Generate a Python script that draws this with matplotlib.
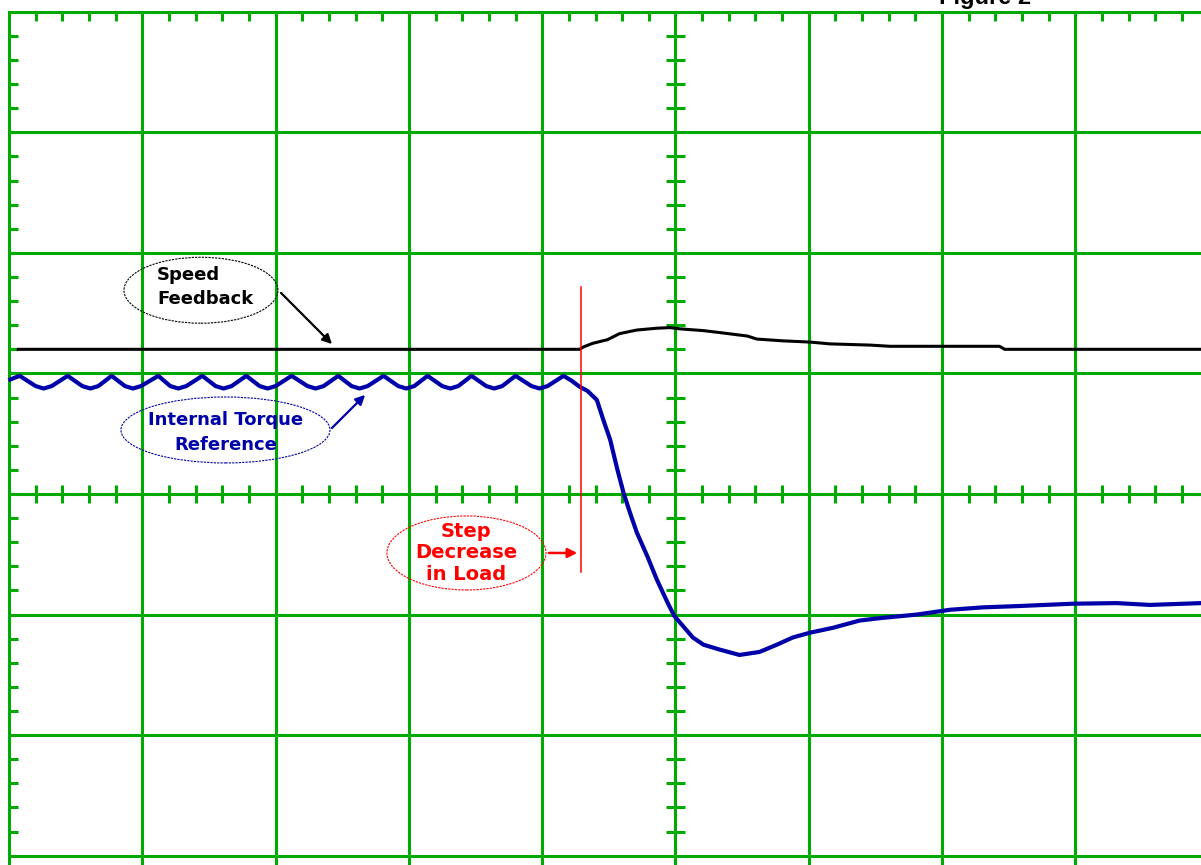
import numpy as np
import matplotlib
matplotlib.use('Agg')
import matplotlib.pyplot as plt
from matplotlib.patches import Ellipse
from matplotlib.collections import LineCollection

### trace data, in scope divisions (x: time div, y: div from centre line)
speed_t = [0.07, 4.28, 4.31, 4.38, 4.49, 4.58, 4.71, 4.86, 4.96, 5.03, 5.21, 5.36,
           5.54, 5.61, 5.81, 6.01, 6.16, 6.46, 6.61, 7.43, 7.47, 8.94]
speed_v = [1.20, 1.20, 1.22, 1.25, 1.28, 1.33, 1.36, 1.375, 1.38, 1.37, 1.355, 1.335,
           1.31, 1.285, 1.27, 1.26, 1.245, 1.235, 1.225, 1.225, 1.20, 1.20]

torque_t = [0.01, 0.08, 0.20, 0.26, 0.32, 0.44, 0.55, 0.61, 0.67, 0.77, 0.87, 0.93,
            0.99, 1.12, 1.21, 1.27, 1.33, 1.45, 1.55, 1.61, 1.67, 1.78, 1.88, 1.94,
            2.00, 2.12, 2.24, 2.30, 2.36, 2.47, 2.57, 2.63, 2.69, 2.81, 2.92, 2.98,
            3.04, 3.14, 3.25, 3.31, 3.37, 3.47, 3.58, 3.64, 3.70, 3.80, 3.92, 3.98,
            4.04, 4.16, 4.22, 4.28, 4.34, 4.41, 4.46, 4.51, 4.56, 4.61, 4.66, 4.71,
            4.79, 4.86, 4.94, 4.99, 5.06, 5.13, 5.21, 5.33, 5.48, 5.63, 5.76, 5.88,
            6.01, 6.18, 6.38, 6.53, 6.81, 7.06, 7.31, 7.56, 7.98, 8.31, 8.56, 8.94]
torque_v = [0.95, 0.98, 0.895, 0.875, 0.895, 0.98, 0.895, 0.875, 0.895, 0.98, 0.895, 0.875,
            0.895, 0.98, 0.895, 0.875, 0.895, 0.98, 0.895, 0.875, 0.895, 0.98, 0.895, 0.875,
            0.895, 0.98, 0.895, 0.875, 0.895, 0.98, 0.895, 0.875, 0.895, 0.98, 0.895, 0.875,
            0.895, 0.98, 0.895, 0.875, 0.895, 0.98, 0.895, 0.875, 0.895, 0.98, 0.895, 0.875,
            0.895, 0.98, 0.94, 0.89, 0.855, 0.78, 0.61, 0.45, 0.22, 0.01, -0.16, -0.32,
            -0.52, -0.71, -0.90, -1.01, -1.10, -1.19, -1.25, -1.29, -1.335, -1.31, -1.25, -1.19,
            -1.15, -1.11, -1.05, -1.03, -1.00, -0.96, -0.94, -0.93, -0.91, -0.905, -0.92, -0.905]

step_t = 4.29
step_span = [-0.647, 1.717]

GREEN = '#00AA00'
NAVY = '#0000A8'
RED = '#FF0000'

fig = plt.figure(figsize=(12.01, 8.65), dpi=100)
ax = fig.add_axes([0, 0, 1, 1])
ax.set_xlim(-9 / 133.3, (1201 - 9) / 133.3)
ax.set_ylim(-(865 - 494) / 120.57, 494 / 120.57)
ax.axis('off')

### graticule
lw = 2.2
xr = ax.get_xlim()
yr = ax.get_ylim()
for k in range(0, 9):
    ax.plot([k, k], [yr[0], 4], color=GREEN, lw=lw, solid_capstyle='projecting', zorder=1)
for r in range(-3, 5):
    ax.plot([0, xr[1]], [r, r], color=GREEN, lw=lw, solid_capstyle='projecting', zorder=1)

segs = []
for k in range(0, 9):
    for j in range(1, 5):
        x = k + j / 5.
        if x < xr[1]:
            segs.append([(x, 4), (x, 4 - 0.075)])          # top edge
            segs.append([(x, -0.075), (x, 0.075)])         # centre horizontal
for r in range(-3, 4):
    for j in range(1, 5):
        y = r + j / 5.
        segs.append([(0, y), (0.065, y)])                  # left edge
        segs.append([(5 - 0.068, y), (5 + 0.068, y)])      # centre vertical
ax.add_collection(LineCollection(segs, colors=GREEN, linewidths=lw, zorder=1))

### traces
ax.plot(speed_t, speed_v, color='black', lw=2.2, zorder=3)
ax.plot(torque_t, torque_v, color=NAVY, lw=3.0, zorder=3)
ax.plot([step_t, step_t], step_span, color=RED, lw=1.1, zorder=4)

### annotations
bold = dict(family='DejaVu Sans', weight='bold', fontsize=13)

ax.add_patch(Ellipse((1.44, 1.69), 1.155, 0.547, fill=False, ec='black', lw=0.8,
                     ls=(0, (2, 1)), zorder=5))
ax.text(1.11, 1.717, 'Speed\nFeedback', ha='left', va='center', color='black',
        linespacing=1.4, zorder=6, **bold)
ax.annotate('', xy=(2.438, 1.227), xytext=(2.026, 1.684),
            arrowprops=dict(arrowstyle='-|>', color='black', lw=1.6, mutation_scale=14), zorder=6)

ax.add_patch(Ellipse((1.624, 0.531), 1.568, 0.547, fill=False, ec=NAVY, lw=0.8,
                     ls=(0, (2, 1)), zorder=5))
ax.text(1.628, 0.506, 'Internal Torque\nReference', ha='center', va='center', color=NAVY,
        linespacing=1.5, zorder=6, **bold)
ax.annotate('', xy=(2.686, 0.838), xytext=(2.408, 0.531),
            arrowprops=dict(arrowstyle='-|>', color=NAVY, lw=1.6, mutation_scale=14), zorder=6)

ax.add_patch(Ellipse((3.432, -0.489), 1.193, 0.614, fill=False, ec=RED, lw=0.8,
                     ls=(0, (2, 1)), zorder=5))
ax.text(3.429, -0.489, 'Step\nDecrease\nin Load', ha='center', va='center', color=RED,
        linespacing=1.15, zorder=6, family='DejaVu Sans', weight='bold', fontsize=14)
ax.annotate('', xy=(4.284, -0.489), xytext=(4.029, -0.489),
            arrowprops=dict(arrowstyle='-|>', color=RED, lw=1.8, mutation_scale=14), zorder=6)

ax.text(6.98, 4.06, 'Figure 2', ha='left', va='baseline', color='black',
        family='Liberation Sans', weight='bold', fontsize=17)

plt.savefig('out.png', dpi=100)
